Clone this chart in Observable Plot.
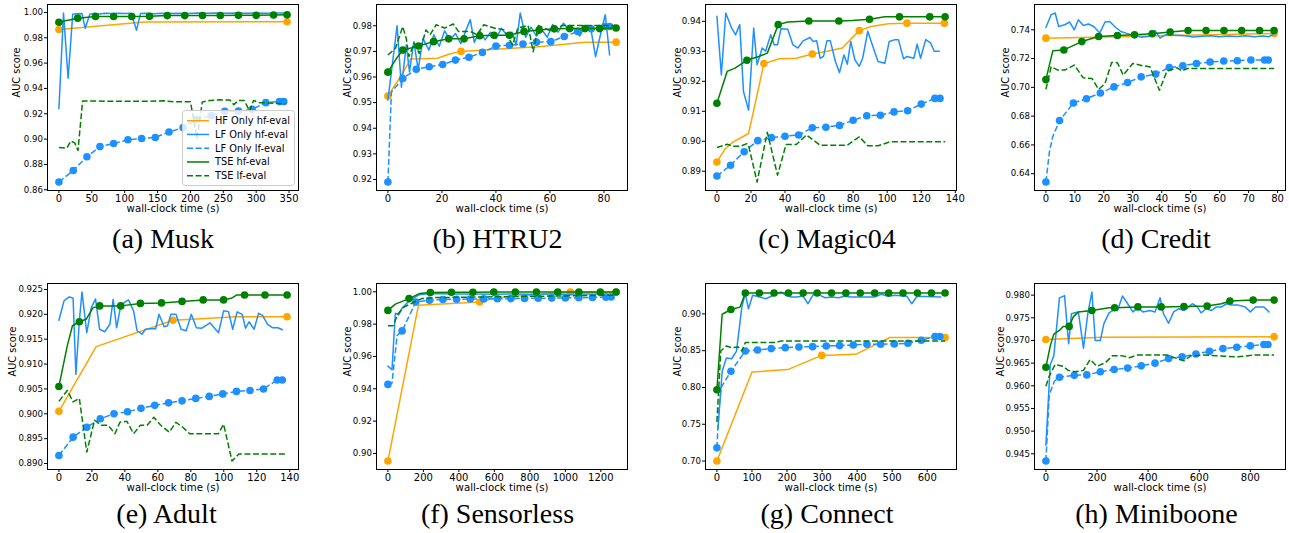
<!DOCTYPE html>
<html>
<head>
<meta charset="utf-8">
<script src="https://cdn.jsdelivr.net/npm/d3@7"></script>
<script src="https://cdn.jsdelivr.net/npm/@observablehq/plot@0.6"></script>
<style>
  body { margin: 0; background: #fff; }
  #root { position: relative; width: 1289px; height: 533px; overflow: hidden; background: #fff; }
  #root > svg { position: absolute; }
</style>
</head>
<body>
<div id="root"></div>
<script>
// ---------------- Series names ----------------
const seriesNames = ["HF Only hf-eval", "LF Only hf-eval", "LF Only lf-eval", "TSE hf-eval", "TSE lf-eval"];

// ---------------- (a) Musk ----------------
const muskXTicks = [0, 50, 100, 150, 200, 250, 300, 350];
const muskYTicks = [0.86, 0.88, 0.90, 0.92, 0.94, 0.96, 0.98, 1.00];
const muskHFhf = [[0,0.9865,1],[130,0.9925,0],[347,0.9927,1]];
const muskLFhf = [[0,0.924],[7,0.9995],[14,0.948],[21,0.9985],[28,0.999],[35,0.9992],[40,0.9875],[47,0.9985],[55,0.9993],[62,0.9988],[70,0.9993],[80,0.9991],[90,0.9994],[100,0.9992],[110,0.9994],[118,0.986],[124,0.9991],[132,0.9993],[145,0.999],[155,0.9994],[165,0.9992],[180,0.9994],[195,0.9992],[210,0.9995],[225,0.9993],[240,0.9995],[255,0.9993],[270,0.9995],[285,0.9993],[300,0.9995],[315,0.9994],[330,0.9996],[342,0.9995]];
const muskLFlf = [[0,0.8661,1],[21.8,0.8752,1],[42.6,0.8861,1],[62.4,0.8941,1],[83.2,0.8965,1],[105,0.8995,1],[125.8,0.9005,1],[146.6,0.9013,1],[167.4,0.9056,1],[188.8,0.9091,1],[209.6,0.9155,1],[231.4,0.9184,1],[252.2,0.9219,1],[273,0.9221,1],[293.8,0.9235,1],[314.6,0.9288,1],[335.4,0.9296,1],[342,0.9296,1]];
const muskTSEhf = [[0,0.9923,1],[10,0.9935,0],[28.6,0.9955,1],[55.6,0.9968,1],[83.2,0.9968,1],[110.8,0.9968,1],[137.8,0.9969,1],[164.8,0.9975,1],[191.4,0.9975,1],[218.4,0.9976,1],[245.4,0.9976,1],[273,0.9977,1],[300,0.9977,1],[326.5,0.998,1],[347,0.9981,1]];
const muskTSElf = [[0,0.8933],[12,0.8928],[18,0.8985],[24,0.897],[29,0.891],[36,0.93],[60,0.93],[100,0.9298],[130,0.9298],[160,0.9302],[175,0.9295],[200,0.9295],[204,0.918],[210,0.9005],[218,0.9293],[230,0.9305],[245,0.931],[260,0.9308],[266,0.9272],[273,0.9305],[282,0.9305],[290,0.922],[296,0.9305],[305,0.9288],[320,0.9285],[345,0.9278]];

// ---------------- (b) HTRU2 ----------------
const htruXTicks = [0, 20, 40, 60, 80];
const htruYTicks = [0.92, 0.93, 0.94, 0.95, 0.96, 0.97, 0.98];
const htruHFhf = [[0,0.9526,1],[4.6,0.960,0],[8.4,0.967,0],[18.4,0.9673,0],[22.8,0.969,0],[27.1,0.970,1],[42.8,0.971,0],[55.3,0.9718,0],[62.8,0.9725,0],[72.8,0.9736,0],[84.5,0.9736,1]];
const htruLFhf = [[0,0.951],[3.4,0.980],[5,0.956],[6.8,0.9725],[8,0.962],[9.6,0.9738],[11.2,0.963],[13,0.975],[15.2,0.9705],[17,0.9765],[19,0.972],[21,0.978],[23,0.9745],[25,0.977],[27,0.973],[29,0.9785],[30.5,0.9824],[32,0.9735],[34,0.978],[36,0.9745],[38,0.9775],[40,0.975],[42,0.979],[44,0.9765],[46,0.9775],[47.5,0.9725],[49,0.985],[51,0.9755],[53,0.9795],[55,0.976],[57,0.9785],[59,0.9755],[61,0.9805],[63,0.9775],[65,0.981],[67,0.9785],[69,0.979],[71,0.976],[73,0.9795],[75,0.9798],[76.9,0.9679],[78.7,0.9765],[80.5,0.9843],[82.1,0.9686]];
const htruLFlf = [[0,0.919,1],[1.3,0.9541,0],[5.5,0.9594,1],[10.5,0.963,1],[15.3,0.964,1],[20.3,0.9649,1],[25,0.9666,1],[30,0.9677,1],[35,0.9696,1],[40,0.9721,1],[45,0.9724,1],[50,0.9729,1],[55,0.9736,1],[60.3,0.9738,1],[65.3,0.9758,1],[70.3,0.9778,1],[75.3,0.9788,1],[80.3,0.9797,1],[82.1,0.9797,1]];
const htruTSEhf = [[0,0.9619,1],[3,0.967,0],[5.5,0.9705,1],[11.3,0.9721,1],[16.9,0.9738,1],[22.5,0.9749,1],[28.2,0.9749,1],[34,0.9761,1],[39.3,0.9763,1],[45,0.9763,1],[50.4,0.9778,1],[56,0.9783,1],[61.6,0.9788,1],[67.3,0.9789,1],[73,0.9789,1],[78.4,0.9789,1],[84.5,0.9791,1]];
const htruTSElf = [[0,0.9686],[2.8,0.9712],[5.5,0.9797],[6.8,0.975],[7.8,0.968],[9.7,0.9732],[11.6,0.9692],[14.1,0.9784],[15.6,0.9765],[17.9,0.9804],[21,0.9791],[24.2,0.9807],[26.1,0.9778],[30.5,0.9778],[33,0.9765],[35.5,0.9804],[39.3,0.9791],[43,0.9784],[46.2,0.9725],[48.1,0.9791],[51.9,0.9801],[53.8,0.9699],[55.7,0.9801],[60.7,0.9778],[64.5,0.9801],[84.5,0.9801]];

// ---------------- (c) Magic04 ----------------
const magicXTicks = [0, 20, 40, 60, 80, 100, 120, 140];
const magicYTicks = [0.89, 0.90, 0.91, 0.92, 0.93, 0.94];
const magicHFhf = [[0,0.8931,1],[5,0.8976,0],[9.6,0.8998,0],[18.6,0.9026,0],[27.6,0.9259,1],[36.6,0.9275,0],[46.6,0.9277,0],[56,0.9291,1],[64.6,0.930,0],[73.6,0.9311,0],[83.6,0.9369,1],[90.6,0.9383,0],[100.6,0.9392,0],[111.6,0.9394,1],[133.6,0.9394,1]];
const magicLFhf = [[0,0.9417],[2.6,0.9221],[5.2,0.9428],[8.6,0.9378],[11,0.9355],[13.4,0.9389],[15.6,0.9166],[18.6,0.9104],[21.6,0.9378],[23.6,0.9255],[26.6,0.9311],[28.6,0.930],[31.6,0.9355],[33.6,0.9322],[35.6,0.9322],[37.6,0.9375],[41.6,0.9374],[44.6,0.9322],[47.6,0.9311],[50.6,0.9335],[54.6,0.9346],[56.6,0.9333],[58.6,0.9335],[60.6,0.9277],[62.6,0.9283],[64.6,0.9335],[66.6,0.9335],[69.6,0.9266],[72,0.9229],[74.6,0.9288],[76.6,0.9257],[78.6,0.9333],[81,0.9272],[83.6,0.925],[85.6,0.9277],[88.6,0.9367],[90.6,0.9333],[94.6,0.9266],[98.6,0.926],[101.2,0.9333],[104.6,0.9339],[106.6,0.9339],[109.6,0.9275],[111.6,0.9283],[115.6,0.9277],[117.6,0.9324],[119.6,0.9277],[122.6,0.9339],[125.6,0.9327],[127.6,0.930],[130.6,0.930]];
const magicLFlf = [[0,0.8884,1],[8,0.892,1],[16,0.8965,1],[24,0.9002,1],[32,0.9012,1],[40,0.9017,1],[48,0.9021,1],[56,0.9045,1],[64,0.9047,1],[72,0.9053,1],[80,0.907,1],[88,0.9085,1],[96,0.9087,1],[104,0.9098,1],[112,0.9102,1],[120,0.9124,1],[128,0.9143,1],[131,0.9143,1]];
const magicTSEhf = [[0,0.9127,1],[6,0.9233,0],[10.6,0.9244,0],[17.6,0.927,1],[24.6,0.9283,0],[29.6,0.9294,0],[36,0.9389,1],[41.6,0.9398,0],[54,0.9401,1],[71.6,0.9401,1],[79.6,0.9403,0],[89.6,0.9407,1],[98.6,0.9415,0],[107.2,0.9415,1],[125,0.9415,1],[134,0.9415,1]];
const magicTSElf = [[0,0.8979],[6,0.899],[9.6,0.8983],[13.6,0.8983],[17.6,0.8992],[18.6,0.8986],[23.6,0.8864],[29.6,0.903],[35.6,0.8887],[40.6,0.8989],[46.6,0.8989],[52.6,0.9021],[60.6,0.8987],[76.6,0.8987],[83.6,0.9015],[88.6,0.8985],[94.6,0.8985],[101.6,0.8998],[134,0.8998]];

// ---------------- (d) Credit ----------------
const creditXTicks = [0, 10, 20, 30, 40, 50, 60, 70, 80];
const creditYTicks = [0.64, 0.66, 0.68, 0.70, 0.72, 0.74];
const creditHFhf = [[0,0.7342,1],[40,0.7358,0],[78.8,0.7374,1]];
const creditLFhf = [[0,0.7416],[1.8,0.7505],[3.2,0.7517],[4.4,0.7423],[6.5,0.7435],[8.2,0.7454],[9.8,0.740],[11.2,0.747],[12.9,0.743],[14.7,0.744],[16.5,0.7423],[18.6,0.7377],[20.4,0.7454],[22,0.7458],[24.1,0.7416],[25.9,0.7388],[27.6,0.7377],[29.4,0.7365],[31.2,0.7356],[32.9,0.7349],[35.3,0.7353],[37.6,0.7395],[39.4,0.7342],[41.2,0.7365],[42.9,0.7365],[45,0.7362],[48,0.7358],[51,0.735],[54,0.7355],[57,0.7358],[60,0.7352],[63,0.7357],[66,0.7354],[69,0.7358],[72,0.7352],[75,0.7357],[77,0.7352],[78.8,0.7372]];
const creditLFlf = [[0,0.6342,1],[1.2,0.655,0],[2.4,0.666,0],[4.7,0.6769,1],[9.5,0.6891,1],[14,0.6921,1],[18.8,0.6961,1],[23.5,0.7003,1],[28.2,0.7033,1],[32.9,0.7073,1],[37.9,0.7092,1],[42.6,0.7138,1],[47.3,0.715,1],[52,0.7166,1],[56.7,0.7176,1],[61.4,0.7183,1],[66.1,0.7185,1],[70.8,0.719,1],[75.5,0.719,1],[76.8,0.719,1]];
const creditTSEhf = [[0,0.7054,1],[2.4,0.7255,0],[6.2,0.726,1],[12.4,0.7318,1],[18.2,0.7353,1],[24.7,0.736,1],[30.6,0.7365,1],[36.7,0.7372,1],[42.9,0.7384,1],[49.1,0.7395,1],[55.3,0.7395,1],[61.5,0.7395,1],[67.6,0.7395,1],[73.8,0.7395,1],[78.8,0.7395,1]];
const creditTSElf = [[0,0.6986],[1.8,0.7143],[4.1,0.712],[6.5,0.712],[9.8,0.7155],[12.9,0.7066],[15.9,0.7062],[18.2,0.6986],[20.4,0.7026],[22.7,0.7173],[24.7,0.7171],[26.7,0.7085],[30,0.7166],[33.5,0.715],[35.9,0.7143],[39.2,0.698],[41.8,0.7113],[45.3,0.7136],[47,0.7113],[48.8,0.7131],[78.8,0.7131]];

// ---------------- (e) Adult ----------------
const adultXTicks = [0, 20, 40, 60, 80, 100, 120, 140];
const adultYTicks = [0.890, 0.895, 0.900, 0.905, 0.910, 0.915, 0.920, 0.925];
const adultHFhf = [[0,0.9005,1],[22.6,0.9135,0],[69.2,0.9188,1],[86.5,0.9191,0],[107,0.9195,0],[138.4,0.9195,1]];
const adultLFhf = [[0,0.9188],[3.1,0.9227],[6.2,0.9235],[8.6,0.9233],[10.3,0.9079],[12.4,0.9187],[14,0.9245],[16.9,0.9163],[19.6,0.9213],[22.2,0.9231],[24.7,0.917],[27.8,0.9165],[30.9,0.918],[32.9,0.923],[35,0.9173],[37.5,0.9217],[40.1,0.9225],[42.2,0.9229],[45.3,0.9207],[47.4,0.9167],[50.4,0.916],[52.5,0.917],[55.6,0.9171],[58.7,0.9171],[60.7,0.920],[63.8,0.9175],[65.9,0.9177],[67.9,0.920],[71,0.920],[74.1,0.917],[77.2,0.9167],[80.3,0.920],[83.4,0.9173],[86.5,0.9172],[91.6,0.9183],[96.8,0.9163],[99.9,0.9207],[102.9,0.9205],[105.4,0.917],[108.1,0.9205],[111.2,0.920],[113.2,0.9172],[115.3,0.9185],[118.4,0.917],[121.1,0.9202],[123.5,0.9198],[126.6,0.918],[129.7,0.9173],[132.8,0.9173],[135.5,0.9169]];
const adultLFlf = [[0,0.8916,1],[8.6,0.8953,1],[16.9,0.8973,1],[25.1,0.899,1],[33.4,0.900,1],[41.6,0.9004,1],[49.8,0.9011,1],[58.1,0.9017,1],[66.5,0.9022,1],[74.7,0.9026,1],[83,0.9031,1],[91.2,0.9035,1],[99.4,0.904,1],[107.7,0.9045,1],[115.9,0.9047,1],[124.1,0.905,1],[132.4,0.9068,1],[135.5,0.9068,1]];
const adultTSEhf = [[0,0.9055,1],[5.1,0.9137,0],[8.2,0.9177,0],[12.4,0.9185,1],[16.5,0.919,0],[20.6,0.9213,0],[24.7,0.9217,1],[37.5,0.9217,1],[49.4,0.9222,1],[62.2,0.9223,1],[74.7,0.9226,1],[87.5,0.9229,1],[99.9,0.9229,1],[105,0.9233,0],[108,0.9239,0],[112.6,0.9239,1],[125,0.9239,1],[138.4,0.9239,1]];
const adultTSElf = [[0,0.9025],[5.1,0.9047],[8.6,0.9024],[12.4,0.9031],[16.9,0.8923],[21.6,0.8987],[25.7,0.8977],[29.9,0.8977],[34,0.896],[37,0.8983],[41.2,0.8985],[45.3,0.896],[49.4,0.8977],[53.5,0.8977],[57.6,0.8993],[61.8,0.8977],[66.9,0.8963],[71,0.8983],[75.1,0.8973],[79.3,0.896],[96.8,0.896],[99.9,0.8979],[105,0.8905],[109.1,0.8919],[138.4,0.8919]];

// ---------------- (f) Sensorless ----------------
const sensXTicks = [0, 200, 400, 600, 800, 1000, 1200];
const sensYTicks = [0.90, 0.92, 0.94, 0.96, 0.98, 1.00];
const sensHFhf = [[0,0.8953,1],[172,0.9916,0],[517,0.9937,1],[617,0.9964,0],[1028,0.9998,1],[1286,0.9997,1]];
const sensLFhf = [[0,0.954],[23,0.9518],[42,0.9867],[61,0.9857],[80,0.9899],[119,0.9943],[176,0.9982],[233,0.999],[300,0.9988],[400,0.9986],[500,0.9987],[600,0.9985],[700,0.9986],[800,0.9985],[900,0.9986],[1000,0.9985],[1100,0.9986],[1200,0.9985],[1258,0.9985]];
const sensLFlf = [[0,0.9427,1],[23,0.9435,0],[52,0.973,0],[80,0.9758,1],[157,0.9937,1],[234,0.9948,1],[310,0.9952,1],[387,0.9954,1],[464,0.9955,1],[540,0.9956,1],[617,0.9957,1],[693,0.9958,1],[770,0.9959,1],[847,0.996,1],[923,0.9961,1],[1000,0.9962,1],[1076,0.9963,1],[1153,0.9965,1],[1229,0.9967,1],[1258,0.9968,1]];
const sensTSEhf = [[0,0.9885,1],[42,0.9924,0],[119,0.9958,1],[180,0.999,0],[239,0.9996,1],[358,0.9997,1],[479,0.9997,1],[597,0.9998,1],[718,0.9998,1],[837,0.9998,1],[957,0.9998,1],[1076,0.9999,1],[1197,0.9999,1],[1286,0.9999,1]];
const sensTSElf = [[0,0.979],[29,0.979],[57,0.9864],[90,0.9905],[150,0.9937],[190,0.9958],[260,0.9964],[1286,0.9979]];

// ---------------- (g) Connect ----------------
const connXTicks = [0, 100, 200, 300, 400, 500, 600];
const connYTicks = [0.70, 0.75, 0.80, 0.85, 0.90];
const connHFhf = [[0,0.700,1],[100,0.8211,0],[202,0.8243,0],[299,0.8436,1],[396,0.845,0],[493,0.8679,0],[651,0.8679,1]];
const connLFhf = [[3,0.744],[15,0.822],[27,0.840],[42,0.839],[56,0.8495],[71,0.9092],[81,0.9275],[90,0.9069],[102,0.9252],[114,0.9239],[139,0.9206],[168,0.9266],[183,0.9298],[197,0.9252],[212,0.9229],[226,0.9229],[246,0.9239],[260,0.9138],[275,0.9266],[294,0.9252],[309,0.922],[328,0.9229],[348,0.922],[362,0.9239],[382,0.9229],[450,0.9229],[469,0.9266],[489,0.9239],[508,0.9252],[542,0.9239],[556,0.9138],[571,0.9239],[639,0.923]];
const connLFlf = [[0,0.7179,1],[5,0.765,0],[12,0.800,0],[40,0.822,1],[81,0.8495,1],[116,0.8509,1],[155,0.8528,1],[195,0.8541,1],[234,0.855,1],[273,0.8555,1],[312,0.8564,1],[350,0.8569,1],[389,0.8578,1],[428,0.8587,1],[467,0.8587,1],[506,0.8592,1],[545,0.860,1],[583,0.8642,1],[622,0.8693,1],[636,0.8693,1]];
const connTSEhf = [[0,0.7968,1],[13,0.8862,0],[15,0.8995,0],[40,0.906,1],[66,0.9092,0],[81,0.9284,1],[121,0.9284,1],[163,0.9284,1],[204,0.9284,1],[246,0.9284,1],[286,0.9284,1],[327,0.9284,1],[368,0.9284,1],[409,0.9284,1],[450,0.9284,1],[490,0.9284,1],[531,0.9284,1],[572,0.9284,1],[612,0.9284,1],[651,0.9284,1]];
const connTSElf = [[0,0.7532],[11,0.8495],[27,0.8564],[42,0.8541],[61,0.855],[71,0.8495],[81,0.861],[168,0.861],[183,0.8633],[651,0.8633]];

// ---------------- (h) Miniboone ----------------
const miniXTicks = [0, 200, 400, 600, 800];
const miniYTicks = [0.945, 0.950, 0.955, 0.960, 0.965, 0.970, 0.975, 0.980];
const miniHFhf = [[0,0.9702,1],[220,0.9707,0],[893,0.9708,1]];
const miniLFhf = [[0,0.9469],[17,0.9647],[31,0.9666],[53,0.9794],[73,0.9799],[89,0.9693],[100,0.9759],[113,0.9761],[127,0.9763],[147,0.9683],[164,0.9759],[180,0.9807],[193,0.970],[213,0.970],[227,0.9737],[247,0.9761],[267,0.9768],[280,0.9766],[300,0.9798],[320,0.9781],[340,0.9763],[360,0.9772],[380,0.9763],[407,0.9766],[427,0.9763],[447,0.9794],[460,0.9759],[480,0.9738],[500,0.9763],[520,0.977],[540,0.9766],[560,0.9774],[573,0.9781],[593,0.9774],[607,0.9761],[627,0.977],[647,0.9766],[667,0.9774],[687,0.9774],[707,0.9781],[727,0.9778],[753,0.9778],[780,0.9774],[800,0.9763],[820,0.9774],[853,0.9774],[873,0.9763]];
const miniLFlf = [[0,0.9434,1],[13,0.958,0],[33,0.961,0],[53,0.9619,1],[111,0.9623,1],[160,0.9624,1],[213,0.9631,1],[267,0.9636,1],[320,0.9639,1],[373,0.9644,1],[427,0.965,1],[480,0.966,1],[533,0.9664,1],[587,0.967,1],[640,0.9676,1],[693,0.9682,1],[747,0.9685,1],[800,0.9688,1],[853,0.9691,1],[869,0.9691,1]];
const miniTSEhf = [[0,0.9641,1],[17,0.9688,0],[31,0.9714,0],[53,0.9722,0],[67,0.9731,0],[91,0.9731,1],[107,0.9752,0],[127,0.9763,0],[180,0.9766,1],[247,0.9772,0],[269,0.9772,1],[360,0.9774,1],[451,0.9774,1],[540,0.9775,1],[631,0.9776,1],[687,0.9781,0],[720,0.9787,1],[811,0.9789,1],[893,0.9789,1]];
const miniTSElf = [[0,0.9599],[13,0.9621],[36,0.9647],[67,0.9643],[87,0.9634],[113,0.9631],[147,0.9634],[173,0.9658],[200,0.9643],[233,0.9651],[260,0.9666],[300,0.9666],[327,0.9662],[360,0.9668],[473,0.9668],[540,0.9655],[567,0.9666],[620,0.9668],[700,0.9665],[753,0.9664],[820,0.9668],[893,0.9668]];

// ---------------- Styling / layout ----------------
const STYLES = [
  {color: "#FFA500", dash: null},
  {color: "#1E90FF", dash: null},
  {color: "#1E90FF", dash: "6,2.6"},
  {color: "#008000", dash: null},
  {color: "#008000", dash: "6,2.6"}
];

const panels = [
  {caption: "(a) Musk",       series: [muskHFhf, muskLFhf, muskLFlf, muskTSEhf, muskTSElf],       xTicks: muskXTicks,   yTicks: muskYTicks,   yFmt: ".2f", fx: 47,   fy: 4,   capX: 163,    capY: 248, ylab: 31},
  {caption: "(b) HTRU2",      series: [htruHFhf, htruLFhf, htruLFlf, htruTSEhf, htruTSElf],       xTicks: htruXTicks,   yTicks: htruYTicks,   yFmt: ".2f", fx: 376,  fy: 4,   capX: 497.5,  capY: 248, ylab: 29},
  {caption: "(c) Magic04",    series: [magicHFhf, magicLFhf, magicLFlf, magicTSEhf, magicTSElf],  xTicks: magicXTicks,  yTicks: magicYTicks,  yFmt: ".2f", fx: 705,  fy: 4,   capX: 827,    capY: 248, ylab: 28},
  {caption: "(d) Credit",     series: [creditHFhf, creditLFhf, creditLFlf, creditTSEhf, creditTSElf], xTicks: creditXTicks, yTicks: creditYTicks, yFmt: ".2f", fx: 1034, fy: 4, capX: 1156, capY: 248, ylab: 29},
  {caption: "(e) Adult",      series: [adultHFhf, adultLFhf, adultLFlf, adultTSEhf, adultTSElf],  xTicks: adultXTicks,  yTicks: adultYTicks,  yFmt: ".3f", fx: 47,   fy: 283, capX: 166.5,  capY: 523, ylab: 35},
  {caption: "(f) Sensorless", series: [sensHFhf, sensLFhf, sensLFlf, sensTSEhf, sensTSElf],       xTicks: sensXTicks,   yTicks: sensYTicks,   yFmt: ".2f", fx: 376,  fy: 283, capX: 497.5,  capY: 523, ylab: 29},
  {caption: "(g) Connect",    series: [connHFhf, connLFhf, connLFlf, connTSEhf, connTSElf],       xTicks: connXTicks,   yTicks: connYTicks,   yFmt: ".2f", fx: 705,  fy: 283, capX: 827,    capY: 523, ylab: 28},
  {caption: "(h) Miniboone",  series: [miniHFhf, miniLFhf, miniLFlf, miniTSEhf, miniTSElf],       xTicks: miniXTicks,   yTicks: miniYTicks,   yFmt: ".3f", fx: 1034, fy: 283, capX: 1156.5, capY: 523, ylab: 34}
];

const FW = 251, FH = 186;           // frame size
const ML = 47, MR = 4, MT = 4, MB = 40;
const FONT = "'DejaVu Sans', sans-serif";
const root = document.getElementById("root");

function drawPanel(cfg) {
  const all = cfg.series.flat();
  const [xmin, xmax] = d3.extent(all, d => d[0]);
  const [ymin, ymax] = d3.extent(all, d => d[1]);
  const px = (xmax - xmin) * 0.05, py = (ymax - ymin) * 0.05;
  const marks = [];
  cfg.series.forEach((data, i) => {
    const st = STYLES[i];
    marks.push(Plot.line(data, {x: d => d[0], y: d => d[1], stroke: st.color, strokeWidth: 1.5,
      strokeDasharray: st.dash || undefined, strokeLinejoin: "round", strokeLinecap: st.dash ? "butt" : "round"}));
    marks.push(Plot.dot(data.filter(d => d[2] === 1), {x: d => d[0], y: d => d[1], r: 3.8, fill: st.color, stroke: "none"}));
  });
  marks.push(Plot.frame({stroke: "#000", strokeWidth: 1}));
  marks.push(Plot.axisX({ticks: cfg.xTicks, tickSize: 3, tickPadding: 1.5, tickFormat: d3.format("d"), label: null, fontSize: 10}));
  marks.push(Plot.axisY({ticks: cfg.yTicks, tickSize: 3, tickPadding: 1.5, tickFormat: d3.format(cfg.yFmt), label: null, fontSize: 8.6}));
  marks.push(Plot.text(["wall-clock time (s)"], {text: d => d, frameAnchor: "bottom", dy: 21, fontSize: 10.2, fill: "#000"}));
  marks.push(Plot.text(["AUC score"], {text: d => d, frameAnchor: "left", dx: -cfg.ylab, rotate: -90, fontSize: 9.8, fill: "#000"}));
  const svg = Plot.plot({
    width: ML + FW + MR, height: MT + FH + MB,
    marginLeft: ML, marginRight: MR, marginTop: MT, marginBottom: MB,
    x: {domain: [xmin - px, xmax + px]},
    y: {domain: [ymin - py, ymax + py]},
    style: {fontFamily: FONT, fontSize: "10px", color: "#000", background: "transparent", overflow: "visible"},
    marks
  });
  svg.style.left = (cfg.fx - ML) + "px";
  svg.style.top = (cfg.fy - MT) + "px";
  root.appendChild(svg);
}

panels.forEach(drawPanel);

// Overlay: captions and legend
const overlay = d3.select(root).append("svg")
  .attr("width", 1289).attr("height", 533)
  .style("left", "0px").style("top", "0px").style("pointer-events", "none");

overlay.selectAll("text.cap").data(panels).join("text")
  .attr("class", "cap")
  .attr("x", d => d.capX).attr("y", d => d.capY)
  .attr("text-anchor", "middle")
  .attr("font-family", "'Liberation Serif', 'Times New Roman', serif")
  .attr("font-size", 28)
  .attr("fill", "#000")
  .text(d => d.caption);

const leg = overlay.append("g").attr("transform", "translate(182,110)");
leg.append("rect").attr("x", 0.5).attr("y", 0.5).attr("width", 112).attr("height", 75).attr("rx", 3)
  .attr("fill", "rgba(255,255,255,0.8)").attr("stroke", "#cccccc").attr("stroke-width", 1);
seriesNames.forEach((name, i) => {
  const y = 10.7 + i * 13.75;
  const st = STYLES[i];
  leg.append("line").attr("x1", 5).attr("x2", 27).attr("y1", y).attr("y2", y)
    .attr("stroke", st.color).attr("stroke-width", 1.5)
    .attr("stroke-dasharray", st.dash || null);
  leg.append("text").attr("x", 33).attr("y", y).attr("dy", "0.35em")
    .attr("font-family", FONT).attr("font-size", 9.8).attr("fill", "#000").text(name);
});
</script>
</body>
</html>
